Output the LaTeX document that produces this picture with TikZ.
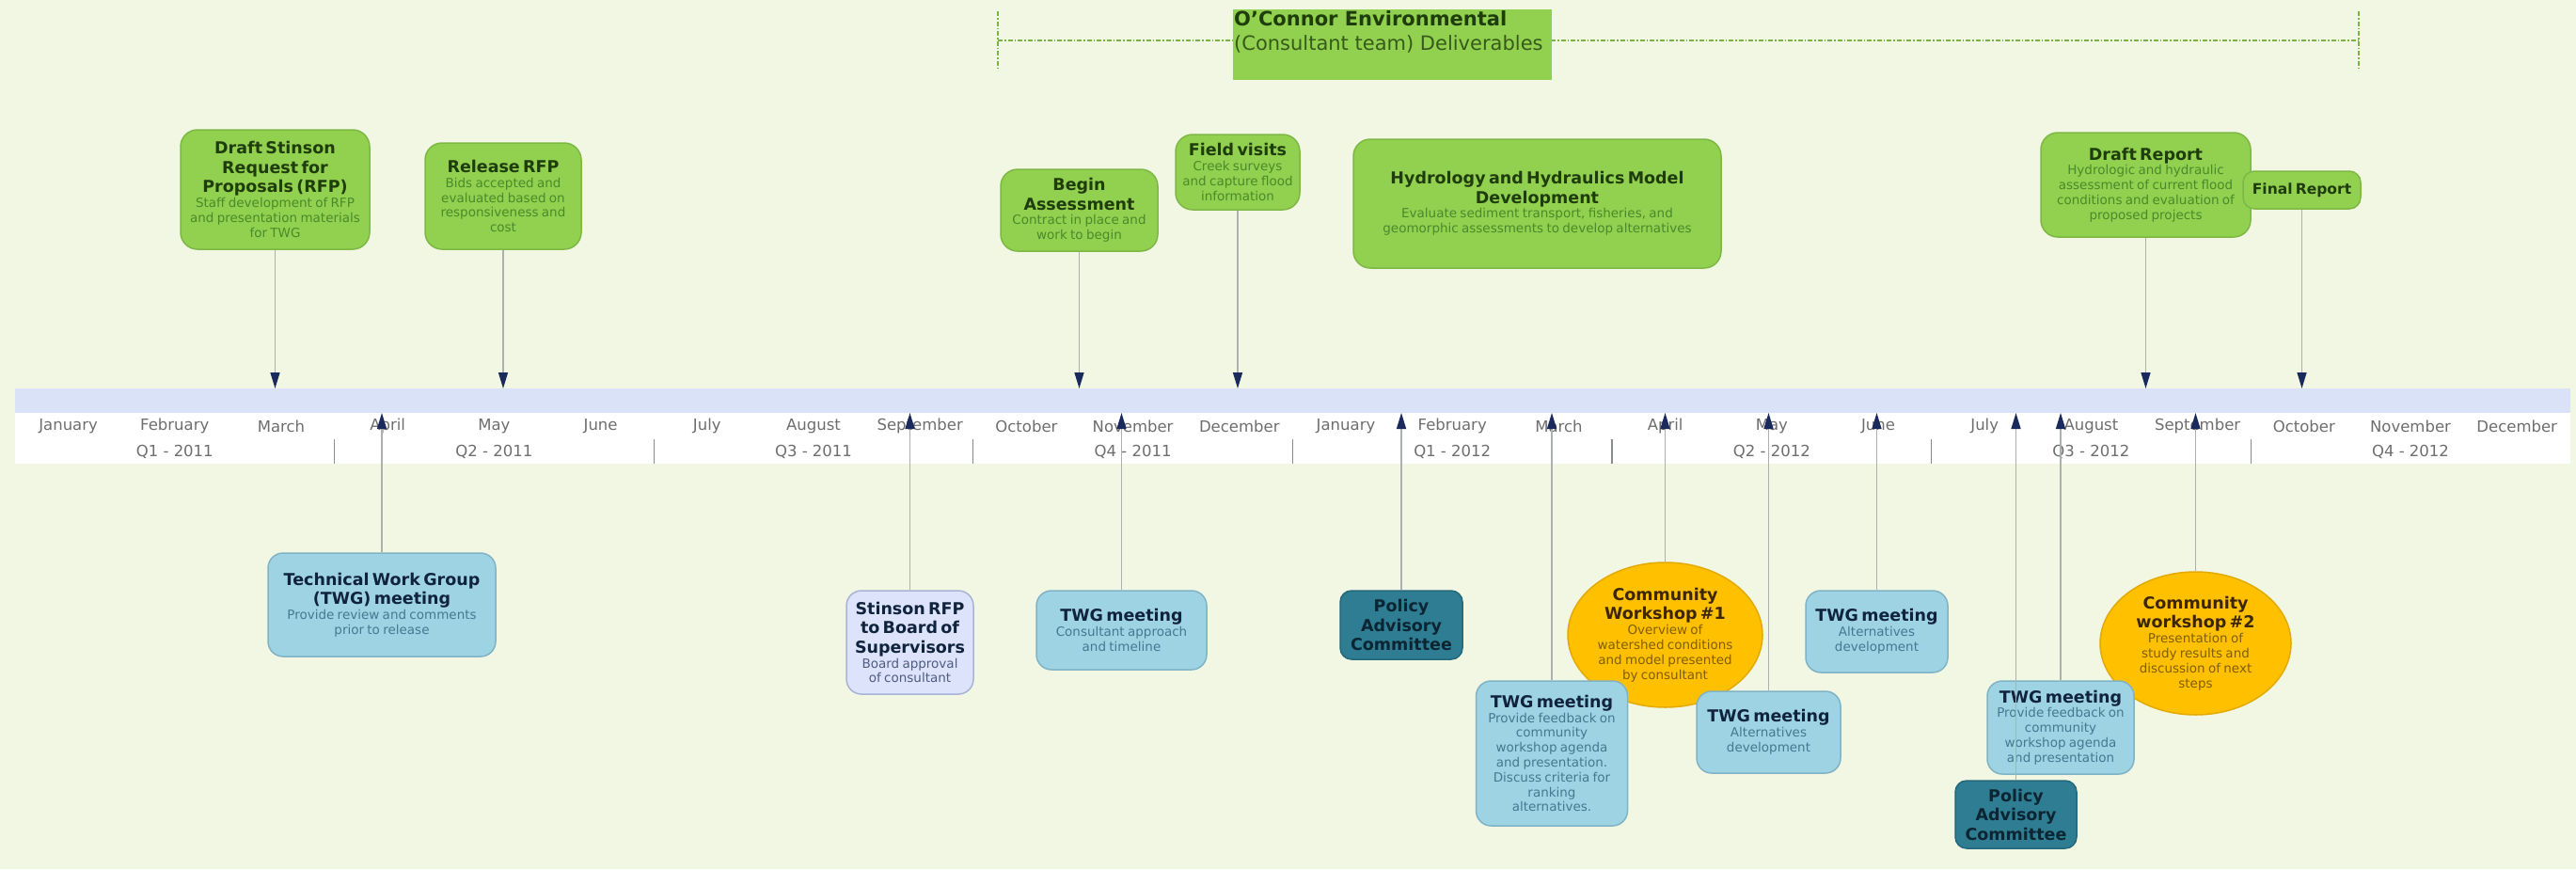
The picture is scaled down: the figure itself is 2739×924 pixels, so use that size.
\documentclass[tikz,border=0pt]{standalone}
\usepackage{fontspec}
\setmainfont{DejaVu Sans}
\usetikzlibrary{shapes.geometric}
\usetikzlibrary{arrows.meta}
\definecolor{bgc}{HTML}{F2F7E4}
\definecolor{bandc}{HTML}{DAE2F8}
\definecolor{greenf}{HTML}{92D050}
\definecolor{greenb}{HTML}{7DB845}
\definecolor{greent}{HTML}{1F3D0C}
\definecolor{greend}{HTML}{4A8A2A}
\definecolor{bluef}{HTML}{9ED3E4}
\definecolor{blueb}{HTML}{80B3C5}
\definecolor{bluet}{HTML}{10233D}
\definecolor{blued}{HTML}{44798F}
\definecolor{lavf}{HTML}{DDE3FA}
\definecolor{lavb}{HTML}{A9B3D6}
\definecolor{lavd}{HTML}{4E5C80}
\definecolor{tealf}{HTML}{2E7D92}
\definecolor{tealb}{HTML}{24687A}
\definecolor{tealt}{HTML}{0C2533}
\definecolor{orf}{HTML}{FFC000}
\definecolor{orb}{HTML}{E3AA00}
\definecolor{ort}{HTML}{3B2600}
\definecolor{ord}{HTML}{7F5F00}
\definecolor{arrowc}{HTML}{1B2A5C}
\definecolor{linec}{HTML}{ADB1AD}
\definecolor{monthc}{HTML}{6E6E6E}
\tikzset{>={Triangle[width=10pt,length=17pt,color=arrowc]}}
\newcommand{\tlfont}{\fontsize{17.5}{20.5}\selectfont\bfseries}
\newcommand{\dsfont}{\fontsize{13.5}{15.8}\selectfont}
\newcommand{\mofont}{\fontsize{16.5}{19}\selectfont}

\begin{document}
\begin{tikzpicture}[x=1pt,y=-1pt]
  \tikzstyle{dnode} = [draw=greenb, fill=greenf, line width=1.5pt, rounded corners=18pt, align=center, inner sep=0pt, text=greent]
  \tikzstyle{mnode} = [draw=blueb, fill=bluef, line width=1.5pt, rounded corners=16pt, align=center, inner sep=0pt, text=bluet]
  \tikzstyle{snode} = [draw=lavb, fill=lavf, line width=1.5pt, rounded corners=16pt, align=center, inner sep=0pt, text=bluet]
  \tikzstyle{anode} = [draw=tealb, fill=tealf, line width=1.5pt, rounded corners=12pt, align=center, inner sep=0pt, text=tealt]
  \tikzstyle{wnode} = [draw=orb, fill=orf, line width=1.5pt, ellipse, align=center, inner sep=0pt, text=ort]
  \tikzstyle{month} = [text=monthc, font=\mofont, inner sep=0pt]
  \tikzstyle{conn} = [draw=linec, line width=1.4pt]
  \tikzstyle{sepl} = [draw=linec!80!black, line width=1.2pt]
  \tikzstyle{hline} = [draw=greenf!85!black, line width=1.5pt, dash pattern=on 5pt off 2pt on 1.5pt off 2pt]

  \useasboundingbox (0,0) rectangle (2739,924);
  \fill[bgc] (0,0) rectangle (2739,924);

  % deliverables header
  \draw[hline] (1061,43) -- (2508,43);
  \draw[hline] (1061,12) -- (1061,75);
  \draw[hline] (2508,12) -- (2508,75);
  \node[fill=greenf, minimum width=339, minimum height=75, anchor=north west, inner sep=0pt] (hdr) at (1311,10) {};
  \node[anchor=north west, align=left, inner sep=1pt, font=\fontsize{21}{26}\selectfont] (hdrtxt) at (hdr.north west) {\textbf{\color{greent}O'Connor Environmental}\\{\color{greent!80!greenf}(Consultant team) Deliverables}};

  % time band
  \fill[bandc] (16,413) rectangle (2733,439);
  \fill[white] (16,439) rectangle (2733,493);
  \coordinate (bandtop) at (0,413);
  \coordinate (bandbot) at (0,439);

  \node[month] (m1) at (72.6,453) {January};
  \node[month] (m2) at (185.8,453) {February};
  \node[month] (m3) at (299.0,453) {March};
  \node[month] (m4) at (412.2,453) {April};
  \node[month] (m5) at (525.4,453) {May};
  \node[month] (m6) at (638.6,453) {June};
  \node[month] (m7) at (751.8,453) {July};
  \node[month] (m8) at (865.0,453) {August};
  \node[month] (m9) at (978.2,453) {September};
  \node[month] (m10) at (1091.4,453) {October};
  \node[month] (m11) at (1204.6,453) {November};
  \node[month] (m12) at (1317.8,453) {December};
  \node[month] (m13) at (1431.0,453) {January};
  \node[month] (m14) at (1544.2,453) {February};
  \node[month] (m15) at (1657.4,453) {March};
  \node[month] (m16) at (1770.6,453) {April};
  \node[month] (m17) at (1883.8,453) {May};
  \node[month] (m18) at (1997.0,453) {June};
  \node[month] (m19) at (2110.2,453) {July};
  \node[month] (m20) at (2223.4,453) {August};
  \node[month] (m21) at (2336.6,453) {September};
  \node[month] (m22) at (2449.8,453) {October};
  \node[month] (m23) at (2563.0,453) {November};
  \node[month] (m24) at (2676.2,453) {December};

  \node[month] (q1) at (185.8,480) {Q1 - 2011};
  \node[month] (q2) at (525.4,480) {Q2 - 2011};
  \node[month] (q3) at (865.0,480) {Q3 - 2011};
  \node[month] (q4) at (1204.6,480) {Q4 - 2011};
  \node[month] (q5) at (1544.2,480) {Q1 - 2012};
  \node[month] (q6) at (1883.8,480) {Q2 - 2012};
  \node[month] (q7) at (2223.4,480) {Q3 - 2012};
  \node[month] (q8) at (2563.0,480) {Q4 - 2012};

  \draw[sepl] (355.6,467) -- (355.6,493);
  \draw[sepl] (695.2,467) -- (695.2,493);
  \draw[sepl] (1034.8,467) -- (1034.8,493);
  \draw[sepl] (1374.4,467) -- (1374.4,493);
  \draw[sepl] (1714.0,467) -- (1714.0,493);
  \draw[sepl] (2053.6,467) -- (2053.6,493);
  \draw[sepl] (2393.2,467) -- (2393.2,493);

  % consultant deliverables (above)
  \node[dnode, minimum width=201, minimum height=127, text width=201] (dstinson) at (292.5,201.5) {{\tlfont Draft Stinson\\Request for\\Proposals (RFP)\par}{\dsfont\color{greend}Staff development of RFP\\and presentation materials\\for TWG\par}};
  \node[dnode, minimum width=166, minimum height=113, text width=166] (rrfp) at (535,208.5) {{\tlfont Release RFP\par}{\dsfont\color{greend}Bids accepted and\\evaluated based on\\responsiveness and\\cost\par}};
  \node[dnode, minimum width=167, minimum height=87, text width=167] (bassess) at (1147.5,223.5) {{\tlfont Begin\\Assessment\par}{\dsfont\color{greend}Contract in place and\\work to begin\par}};
  \node[dnode, minimum width=132, minimum height=80, text width=132] (fvisits) at (1316,183) {{\tlfont Field visits\par}{\dsfont\color{greend}Creek surveys\\and capture flood\\information\par}};
  \node[dnode, minimum width=391, minimum height=137, text width=391] (hydro) at (1634.5,216.5) {{\tlfont Hydrology and Hydraulics Model\\Development\par}{\dsfont\color{greend}Evaluate sediment transport, fisheries, and\\geomorphic assessments to develop alternatives\par}};
  \node[dnode, minimum width=223, minimum height=111, text width=223] (dreport) at (2281.5,196.5) {{\tlfont Draft Report\par}{\dsfont\color{greend}Hydrologic and hydraulic\\assessment of current flood\\conditions and evaluation of\\proposed projects\par}};
  \node[dnode, rounded corners=12pt, minimum width=125, minimum height=40, text width=125] (freport) at (2447.5,202) {{\fontsize{15.5}{18}\selectfont\bfseries Final Report\par}};

  % meetings and workshops (below)
  \node[mnode, minimum width=242, minimum height=110, text width=242] (twgtech) at (406,643) {{\tlfont Technical Work Group\\(TWG) meeting\par}{\dsfont\color{blued}Provide review and comments\\prior to release\par}};
  \node[snode, minimum width=135, minimum height=110, text width=135] (stbos) at (967.5,683) {{\tlfont Stinson RFP\\to Board of\\Supervisors\par}{\dsfont\color{lavd}Board approval\\of consultant\par}};
  \node[mnode, minimum width=181, minimum height=84, text width=181] (twgcons) at (1192.5,670) {{\tlfont TWG meeting\par}{\dsfont\color{blued}Consultant approach\\and timeline\par}};
  \node[anode, minimum width=130, minimum height=73, text width=130] (pac1) at (1490,664.5) {{\tlfont Policy\\Advisory\\Committee\par}};
  \node[wnode, minimum width=207, minimum height=154, text width=145] (cw1) at (1770.5,675) {{\tlfont Community\\Workshop \#1\par}{\dsfont\color{ord}Overview of\\watershed conditions\\and model presented\\by consultant\par}};
  \node[mnode, minimum width=161, minimum height=154, text width=161] (twgfb1) at (1650,801) {{\tlfont TWG meeting\par}{\dsfont\color{blued}Provide feedback on\\community\\workshop agenda\\and presentation.\\Discuss criteria for\\ranking\\alternatives.\par}};
  \node[mnode, minimum width=153, minimum height=87, text width=153] (twgalt1) at (1880.5,778.5) {{\tlfont TWG meeting\par}{\dsfont\color{blued}Alternatives\\development\par}};
  \node[mnode, minimum width=151, minimum height=87, text width=151] (twgalt2) at (1995.5,671.5) {{\tlfont TWG meeting\par}{\dsfont\color{blued}Alternatives\\development\par}};
  \node[wnode, minimum width=203, minimum height=152, text width=140] (cw2) at (2334.5,684) {{\tlfont Community\\workshop \#2\par}{\dsfont\color{ord}Presentation of\\study results and\\discussion of next\\steps\par}};
  \node[mnode, minimum width=156, minimum height=99, text width=156] (twgfb2) at (2191,773.5) {{\tlfont TWG meeting\par}{\dsfont\color{blued}Provide feedback on\\community\\workshop agenda\\and presentation\par}};
  \node[anode, minimum width=129, minimum height=72, text width=129] (pac2) at (2143.5,866) {{\tlfont Policy\\Advisory\\Committee\par}};

  % connectors
  \draw[conn,->] (dstinson.south) -- (dstinson.south |- bandtop);
  \draw[conn,->] (rrfp.south) -- (rrfp.south |- bandtop);
  \draw[conn,->] (bassess.south) -- (bassess.south |- bandtop);
  \draw[conn,->] (fvisits.south) -- (fvisits.south |- bandtop);
  \draw[conn,->] (dreport.south) -- (dreport.south |- bandtop);
  \draw[conn,->] (freport.south) -- (freport.south |- bandtop);

  \draw[conn,->] (twgtech.north) -- (twgtech.north |- bandbot);
  \draw[conn,->] (stbos.north) -- (stbos.north |- bandbot);
  \draw[conn,->] (twgcons.north) -- (twgcons.north |- bandbot);
  \draw[conn,->] (pac1.north) -- (pac1.north |- bandbot);
  \draw[conn,->] (twgfb1.north) -- (twgfb1.north |- bandbot);
  \draw[conn,->] (cw1.north) -- (cw1.north |- bandbot);
  \draw[conn,->] (twgalt1.north) -- (twgalt1.north |- bandbot);
  \draw[conn,->] (twgalt2.north) -- (twgalt2.north |- bandbot);
  \draw[conn,->] (pac2.north) -- (pac2.north |- bandbot);
  \draw[conn,->] (twgfb2.north) -- (twgfb2.north |- bandbot);
  \draw[conn,->] (cw2.north) -- (cw2.north |- bandbot);
\end{tikzpicture}
\end{document}
